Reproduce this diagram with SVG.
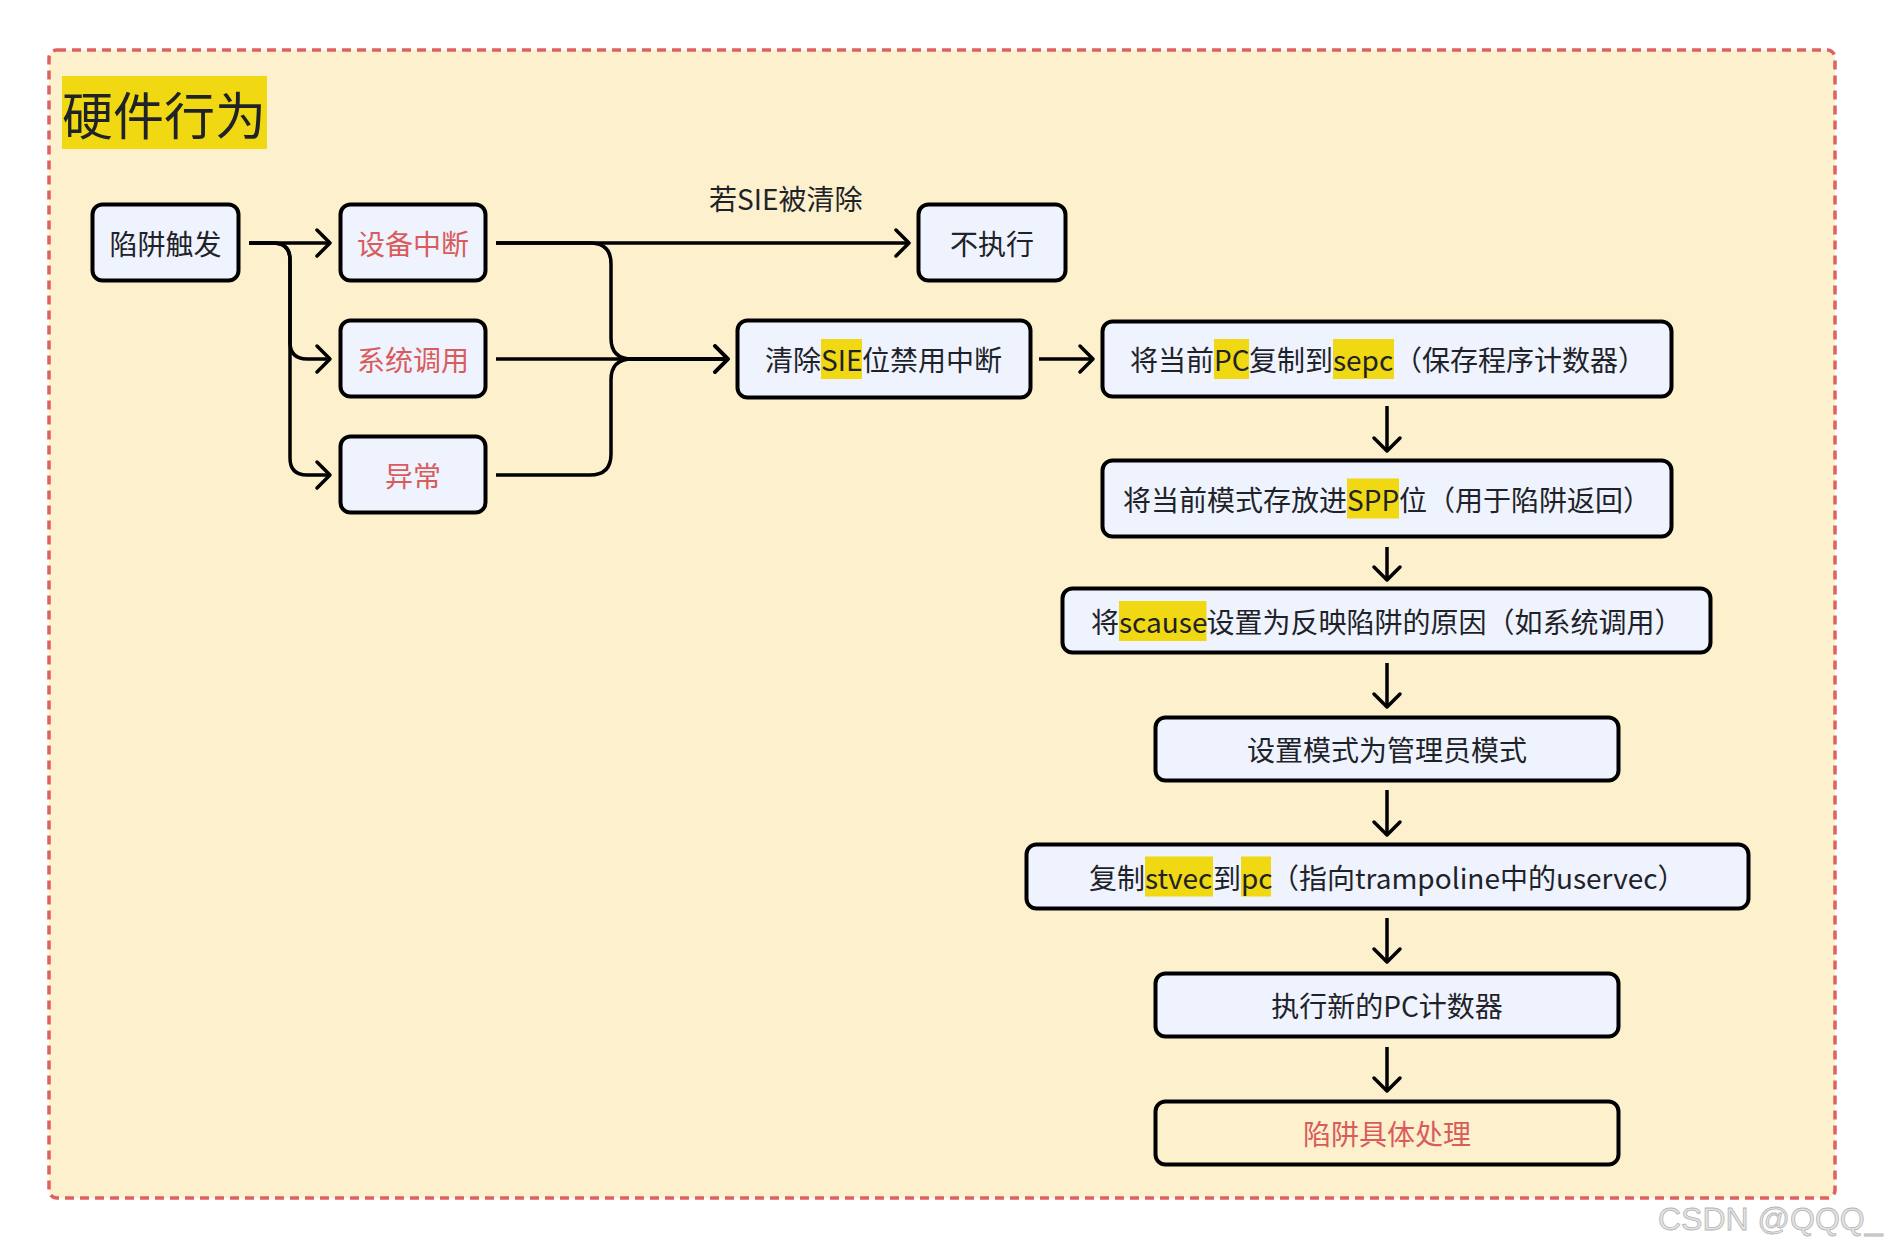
<svg xmlns="http://www.w3.org/2000/svg" width="1886" height="1250" viewBox="0 0 1886 1250">
<style>
text{font-family:"Noto Sans CJK SC","Noto Sans",sans-serif;font-size:28px;fill:#1f2329}
.c{text-anchor:middle}
.red{fill:#d95c5c}
.box{fill:#eef3fd;stroke:#000;stroke-width:4}
.box2{fill:#fdf0cd;stroke:#000;stroke-width:4}
.hl{fill:#f0d812}
.ln{fill:none;stroke:#000;stroke-width:3.5;stroke-linecap:butt;stroke-linejoin:round}
</style>
<defs>
<marker id="arr" markerUnits="userSpaceOnUse" markerWidth="40" markerHeight="40" viewBox="-20 -20 40 40" refX="0" refY="0" orient="auto">
<path d="M-13,-13 L0,0 L-13,13" fill="none" stroke="#000" stroke-width="3.5" stroke-linecap="round" stroke-linejoin="round"/>
</marker>
</defs>
<rect width="1886" height="1250" fill="#ffffff"/>
<rect id="container" x="49" y="50" width="1786" height="1148" rx="8" fill="#fdf0cc" stroke="#e06060" stroke-width="3.5" stroke-dasharray="9 6"/>
<g id="title">
<rect class="hl" x="62" y="76" width="205" height="73"/>
<text x="62" y="135" style="font-size:51px">硬件行为</text>
</g>
<g id="connectors">
<path class="ln" d="M249,243 H330" marker-end="url(#arr)"/>
<path class="ln" d="M249,243 H273 Q290,243 290,260 V342 Q290,359 307,359 H330" marker-end="url(#arr)"/>
<path class="ln" d="M249,243 H273 Q290,243 290,260 V458 Q290,475 307,475 H330" marker-end="url(#arr)"/>
<path class="ln" d="M496,243 H909" marker-end="url(#arr)"/>
<path class="ln" d="M496,243 H590 Q611,243 611,264 V338 Q611,359 632,359 H728" marker-end="url(#arr)"/>
<path class="ln" d="M496,359 H728" marker-end="url(#arr)"/>
<path class="ln" d="M496,475 H590 Q611,475 611,454 V380 Q611,359 632,359 H728" marker-end="url(#arr)"/>
<path class="ln" d="M1039,359 H1093" marker-end="url(#arr)"/>
<path class="ln" d="M1387,406 V451" marker-end="url(#arr)"/>
<path class="ln" d="M1387,547 V580" marker-end="url(#arr)"/>
<path class="ln" d="M1387,663 V707" marker-end="url(#arr)"/>
<path class="ln" d="M1387,790 V835" marker-end="url(#arr)"/>
<path class="ln" d="M1387,918 V962" marker-end="url(#arr)"/>
<path class="ln" d="M1387,1047 V1091" marker-end="url(#arr)"/>
<text x="709" y="210">若SIE被清除</text>
</g>
<g id="n1">
<rect class="box" x="92.5" y="204.5" width="146" height="76" rx="10"/>
<text class="c" x="165.5" y="255">陷阱触发</text>
</g>
<g id="n2">
<rect class="box" x="340.5" y="204.5" width="145" height="76" rx="10"/>
<text class="c red" x="413" y="255">设备中断</text>
</g>
<g id="n3">
<rect class="box" x="340.5" y="320.5" width="145" height="76" rx="10"/>
<text class="c red" x="413" y="371">系统调用</text>
</g>
<g id="n4">
<rect class="box" x="340.5" y="436.5" width="145" height="76" rx="10"/>
<text class="c red" x="413" y="487">异常</text>
</g>
<g id="n5">
<rect class="box" x="918.5" y="204.5" width="147" height="76" rx="10"/>
<text class="c" x="992" y="255">不执行</text>
</g>
<g id="n6">
<rect class="box" x="737.5" y="320.5" width="293" height="77" rx="10"/>
<rect class="hl" x="821" y="339" width="41" height="40"/>
<text y="371"><tspan x="765">清除</tspan><tspan x="821">SIE</tspan><tspan x="862">位禁用中断</tspan></text>
</g>
<g id="n7">
<rect class="box" x="1102.5" y="321.5" width="569" height="75" rx="10"/>
<rect class="hl" x="1214" y="339" width="35" height="40"/>
<rect class="hl" x="1333" y="339" width="61" height="40"/>
<text y="371"><tspan x="1130">将当前</tspan><tspan x="1214">PC</tspan><tspan x="1249">复制到</tspan><tspan x="1333">sepc</tspan><tspan x="1394">（保存程序计数器）</tspan></text>
</g>
<g id="n8">
<rect class="box" x="1102.5" y="460.5" width="569" height="76" rx="10"/>
<rect class="hl" x="1347" y="478.5" width="52" height="40"/>
<text y="510.5"><tspan x="1123">将当前模式存放进</tspan><tspan x="1347">SPP</tspan><tspan x="1399">位（用于陷阱返回）</tspan></text>
</g>
<g id="n9">
<rect class="box" x="1062.5" y="588.5" width="648" height="64" rx="10"/>
<rect class="hl" x="1119" y="601" width="87.5" height="40"/>
<text y="633"><tspan x="1091">将</tspan><tspan x="1119">scause</tspan><tspan x="1206.5">设置为反映陷阱的原因（如系统调用）</tspan></text>
</g>
<g id="n10">
<rect class="box" x="1155.5" y="717.5" width="463" height="63" rx="10"/>
<text class="c" x="1387" y="761">设置模式为管理员模式</text>
</g>
<g id="n11">
<rect class="box" x="1026.5" y="844.5" width="722" height="64" rx="10"/>
<rect class="hl" x="1145" y="856.5" width="68" height="40"/>
<rect class="hl" x="1241" y="856.5" width="30" height="40"/>
<text y="888.5"><tspan x="1089">复制</tspan><tspan x="1145">stvec</tspan><tspan x="1213">到</tspan><tspan x="1241">pc</tspan><tspan x="1271">（指向trampoline中的uservec）</tspan></text>
</g>
<g id="n12">
<rect class="box" x="1155.5" y="973.5" width="463" height="63" rx="10"/>
<text class="c" x="1387" y="1017">执行新的PC计数器</text>
</g>
<g id="n13">
<rect class="box2" x="1155.5" y="1101.5" width="463" height="63" rx="10"/>
<text class="c red" x="1387" y="1145">陷阱具体处理</text>
</g>
<text x="1658" y="1230" style="font-family:'Liberation Sans',Arial,sans-serif;font-size:32px;fill:#e4e4e4;stroke:#b5b5b5;stroke-width:0.8">CSDN @QQQ_</text>
</svg>
